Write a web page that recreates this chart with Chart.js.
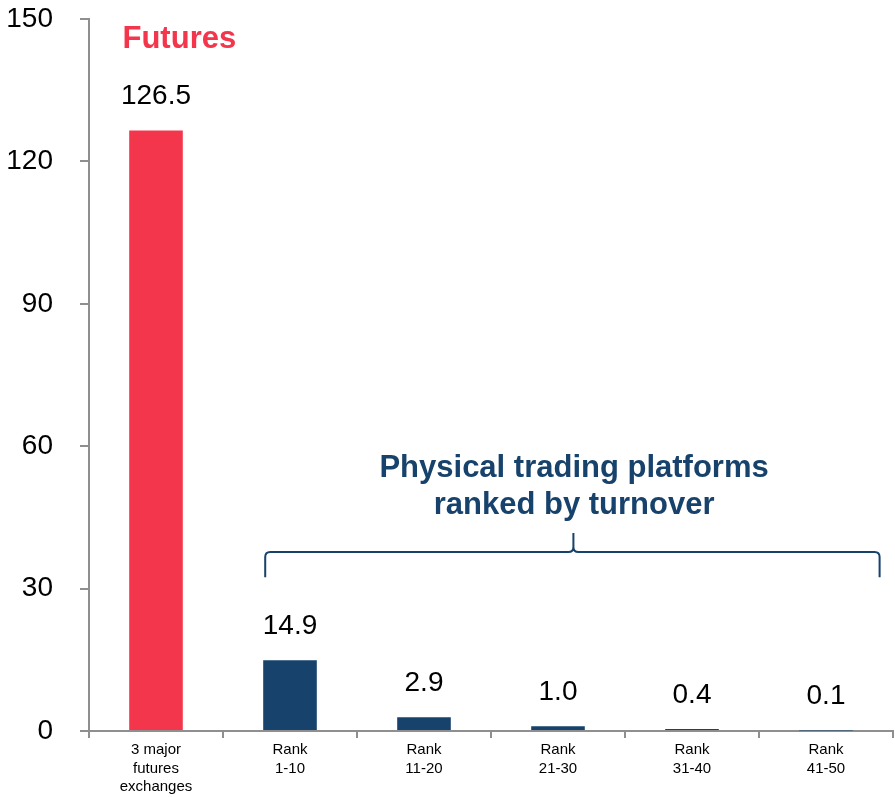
<!DOCTYPE html>
<html>
<head>
<meta charset="utf-8">
<script src="https://cdn.jsdelivr.net/npm/chart.js@4.4.1/dist/chart.umd.min.js"></script>
<style>
  body { margin: 0; background: #fff; }
  #wrap { width: 895px; height: 797px; position: relative; }
</style>
</head>
<body>
<div id="wrap"><canvas id="chart"></canvas></div>
<script>
const categories = [
  ['3 major', 'futures', 'exchanges'],
  ['Rank', '1-10'],
  ['Rank', '11-20'],
  ['Rank', '21-30'],
  ['Rank', '31-40'],
  ['Rank', '41-50']
];
const turnover = [126.5, 14.9, 2.9, 1.0, 0.4, 0.1];
const yTicks = [0, 30, 60, 90, 120, 150];

const RED = '#f3364c';
const NAVY = '#17426b';
const AXIS = '#8f8f8f';
const FONT = '"Liberation Sans", Arial, sans-serif';

// value labels over the bars
const barLabels = {
  id: 'barLabels',
  afterDatasetsDraw(chart) {
    const ctx = chart.ctx;
    const meta = chart.getDatasetMeta(0);
    ctx.save();
    ctx.font = '28px ' + FONT;
    ctx.fillStyle = '#000';
    ctx.textAlign = 'center';
    ctx.textBaseline = 'middle';
    meta.data.forEach((bar, i) => {
      ctx.fillText(turnover[i].toFixed(1), bar.x, bar.y - 34);
    });
    ctx.restore();
  }
};

// "Futures" heading, brace and its caption
const notes = {
  id: 'notes',
  afterDraw(chart) {
    const ctx = chart.ctx;
    const x = chart.scales.x, y = chart.scales.y;
    ctx.save();

    ctx.font = 'bold 31px ' + FONT;
    ctx.fillStyle = RED;
    ctx.textAlign = 'left';
    ctx.textBaseline = 'middle';
    ctx.fillText('Futures', x.getPixelForValue(-0.25), y.getPixelForValue(145.6));

    ctx.fillStyle = NAVY;
    ctx.font = 'bold 31px ' + FONT;
    ctx.textAlign = 'center';
    const cx = x.getPixelForValue(3.12);
    ctx.fillText('Physical trading platforms', cx, y.getPixelForValue(55.4));
    ctx.fillText('ranked by turnover', cx, y.getPixelForValue(47.6));

    // brace
    const x0 = x.getPixelForValue(0.815), x1 = x.getPixelForValue(5.4), xm = x.getPixelForValue(3.115);
    const yEnd = y.getPixelForValue(32.4), yLine = y.getPixelForValue(37.7), yTip = y.getPixelForValue(41.7);
    const r = 5;
    ctx.strokeStyle = NAVY;
    ctx.lineWidth = 2;
    ctx.beginPath();
    ctx.moveTo(x0, yEnd);
    ctx.lineTo(x0, yLine + r);
    ctx.quadraticCurveTo(x0, yLine, x0 + r, yLine);
    ctx.lineTo(xm - r, yLine);
    ctx.quadraticCurveTo(xm, yLine, xm, yLine - r);
    ctx.lineTo(xm, yTip);
    ctx.moveTo(xm, yLine - r);
    ctx.quadraticCurveTo(xm, yLine, xm + r, yLine);
    ctx.lineTo(x1 - r, yLine);
    ctx.quadraticCurveTo(x1, yLine, x1, yLine + r);
    ctx.lineTo(x1, yEnd);
    ctx.stroke();
    ctx.restore();
  }
};

new Chart(document.getElementById('chart'), {
  type: 'bar',
  data: {
    labels: categories,
    datasets: [{
      data: turnover,
      backgroundColor: turnover.map((v, i) => i === 0 ? RED : NAVY),
      categoryPercentage: 1,
      barPercentage: 0.4
    }]
  },
  options: {
    responsive: true,
    maintainAspectRatio: false,
    animation: false,
    layout: { padding: { top: 19, right: 2, left: 0, bottom: 0 } },
    plugins: { legend: { display: false }, tooltip: { enabled: false } },
    scales: {
      x: {
        afterFit(s) { s.height = 66; s.paddingLeft = 0; s.paddingRight = 0; },
        border: { color: AXIS, width: 2 },
        grid: { offset: true, drawOnChartArea: false, color: AXIS, lineWidth: 2, tickLength: 7 },
        ticks: { color: '#000', font: { family: FONT, size: 15, lineHeight: 1.22 }, padding: 3, maxRotation: 0 }
      },
      y: {
        min: 0,
        max: 150,
        afterFit(s) { s.width = 89; s.paddingTop = 0; s.paddingBottom = 0; },
        afterBuildTicks(s) { s.ticks = yTicks.map(v => ({ value: v })); },
        border: { color: AXIS, width: 2 },
        grid: { drawOnChartArea: false, color: AXIS, lineWidth: 2, tickLength: 9 },
        ticks: { color: '#000', font: { family: FONT, size: 28 }, padding: 27 }
      }
    }
  },
  plugins: [barLabels, notes]
});
</script>
</body>
</html>
